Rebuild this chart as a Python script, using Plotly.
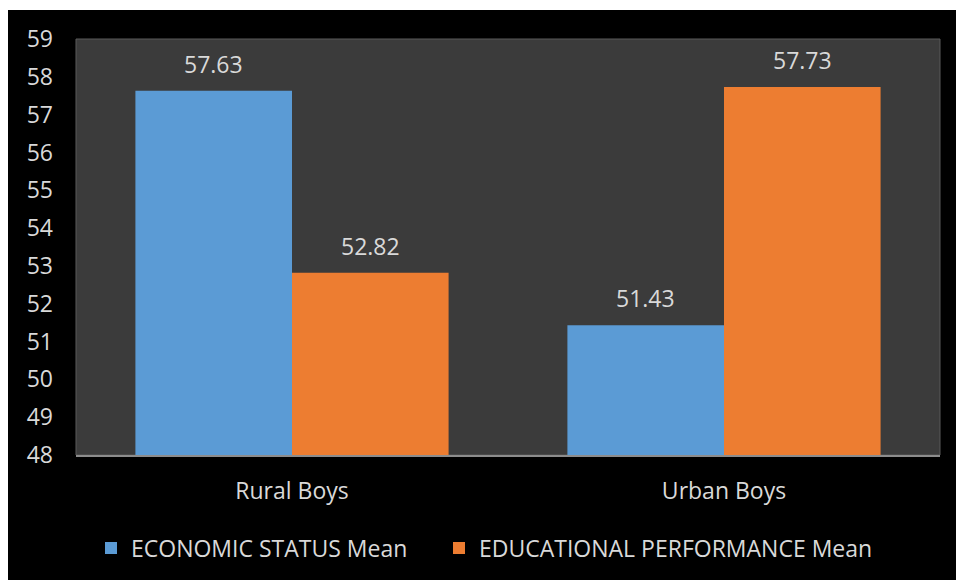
import plotly.graph_objects as go

# Group means by locality
categories = ["Rural Boys", "Urban Boys"]
economic_status = [57.63, 51.43]
educational_performance = [52.82, 57.73]
series_names = ["ECONOMIC STATUS Mean", "EDUCATIONAL PERFORMANCE Mean"]
y_ticks = list(range(48, 60))

W, H = 956, 580
M_L, M_R, M_T, M_B = 76, 16, 39, 124
plot_w = W - M_L - M_R
plot_h = H - M_T - M_B

FONT = "'Open Sans', 'Noto Sans', sans-serif"
FS = 23
TEXT = "#d9d9d9"
BLUE = "#5b9bd5"
ORANGE = "#ed7d31"

fig = go.Figure()
fig.add_trace(go.Bar(x=categories, y=economic_status, name=series_names[0],
                     marker=dict(color=BLUE, line=dict(width=0)), legend="legend"))
fig.add_trace(go.Bar(x=categories, y=educational_performance, name=series_names[1],
                     marker=dict(color=ORANGE, line=dict(width=0)), legend="legend2"))

# Value labels above each bar
bargap = 0.275
bar_px = plot_w / len(categories) * (1 - bargap) / 2
for vals, shift in ((economic_status, -bar_px / 2), (educational_performance, bar_px / 2)):
    for c, v in zip(categories, vals):
        fig.add_annotation(x=c, y=v, text=f"{v:.2f}", showarrow=False,
                           xshift=shift, yshift=9, yanchor="bottom",
                           font=dict(family=FONT, size=FS, color=TEXT))

# Thin white margin along the top and left edges of the page
fig.add_shape(type="rect", xref="paper", yref="paper",
              x0=-M_L / plot_w - 0.01, x1=-(M_L - 8) / plot_w,
              y0=-M_B / plot_h - 0.01, y1=1 + M_T / plot_h + 0.01,
              fillcolor="white", line=dict(width=0), layer="above")
fig.add_shape(type="rect", xref="paper", yref="paper",
              x0=-M_L / plot_w - 0.01, x1=1 + M_R / plot_w + 0.01,
              y0=1 + (M_T - 10) / plot_h, y1=1 + M_T / plot_h + 0.01,
              fillcolor="white", line=dict(width=0), layer="above")
# Plot-area frame
fig.add_shape(type="rect", xref="paper", yref="paper", x0=0, x1=1, y0=0, y1=1,
              line=dict(color="#5a5a5a", width=1), layer="below")

legend_common = dict(orientation="h", xanchor="left", y=-92 / plot_h, yanchor="middle",
                     font=dict(family=FONT, size=FS, color=TEXT),
                     bgcolor="rgba(0,0,0,0)", itemwidth=30)

fig.update_layout(
    width=W, height=H,
    margin=dict(l=M_L, r=M_R, t=M_T, b=M_B, pad=0),
    paper_bgcolor="black", plot_bgcolor="#3b3b3b",
    barmode="group", bargap=bargap, bargroupgap=0,
    font=dict(family=FONT, size=FS, color=TEXT),
    showlegend=True,
    legend=dict(x=(91 - M_L) / plot_w, **legend_common),
    legend2=dict(x=(439 - M_L) / plot_w, **legend_common),
    xaxis=dict(showgrid=False, showline=True, linecolor="#8c8c8c", linewidth=2,
               ticks="", tickfont=dict(family=FONT, size=FS, color=TEXT),
               ticklabelstandoff=14, zeroline=False),
    yaxis=dict(range=[48, 59], tickvals=y_ticks, showgrid=False, showline=False,
               zeroline=False, ticks="", tickfont=dict(family=FONT, size=FS, color=TEXT),
               ticklabelstandoff=22),
)

fig.write_html("out.html")
